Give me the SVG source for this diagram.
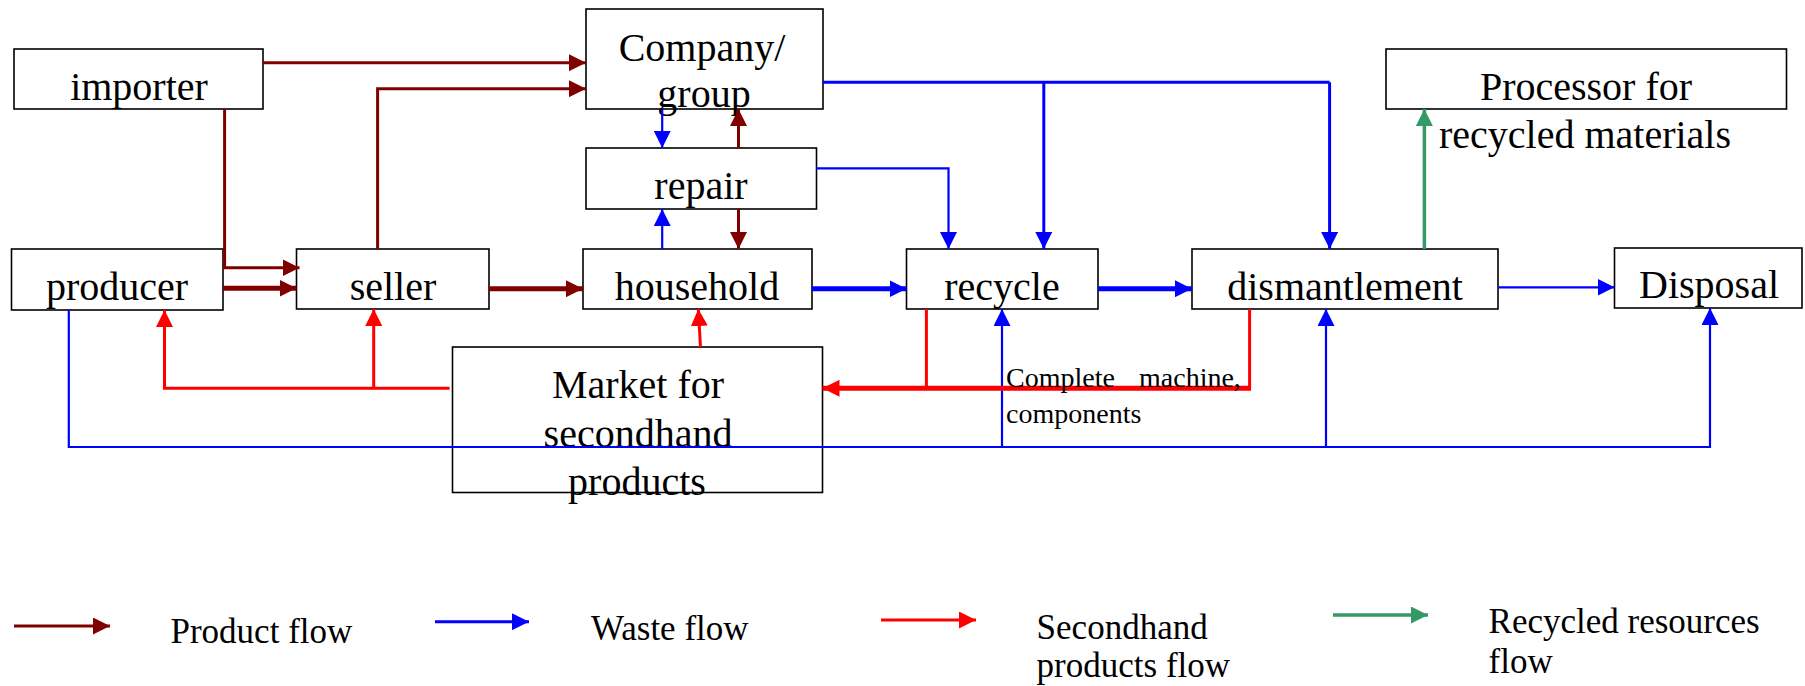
<svg xmlns="http://www.w3.org/2000/svg" width="1805" height="686" viewBox="0 0 1805 686">
<style>
.box{fill:#fff;stroke:#000;stroke-width:1.6}
.t{font-family:"Liberation Serif","Times New Roman",serif;font-size:40px;fill:#000;text-anchor:middle}
.lg{font-family:"Liberation Serif","Times New Roman",serif;font-size:35px;fill:#000}
.sm{font-family:"Liberation Serif","Times New Roman",serif;font-size:28px;fill:#000}
.c{fill:none}
.dr{stroke:#800000;stroke-width:3;marker-end:url(#mdr)}
.bl{stroke:#0000FF;stroke-width:3;marker-end:url(#mbl)}
.blt{stroke:#0000FF;stroke-width:2.2;marker-end:url(#mbl)}
.rd{stroke:#FF0000;stroke-width:3;marker-end:url(#mrd)}
.gr{stroke:#339966;stroke-width:3.5;marker-end:url(#mgr)}
.thick{stroke-width:5}
.nm{marker-end:none}
</style>
<defs>
<marker id="mdr" markerUnits="userSpaceOnUse" markerWidth="17" markerHeight="17" viewBox="0 0 17 17" refX="17" refY="8.5" orient="auto"><path d="M0,0 L17,8.5 L0,17 z" fill="#800000"/></marker>
<marker id="mbl" markerUnits="userSpaceOnUse" markerWidth="17" markerHeight="17" viewBox="0 0 17 17" refX="17" refY="8.5" orient="auto"><path d="M0,0 L17,8.5 L0,17 z" fill="#0000FF"/></marker>
<marker id="mrd" markerUnits="userSpaceOnUse" markerWidth="17" markerHeight="17" viewBox="0 0 17 17" refX="17" refY="8.5" orient="auto"><path d="M0,0 L17,8.5 L0,17 z" fill="#FF0000"/></marker>
<marker id="mgr" markerUnits="userSpaceOnUse" markerWidth="17" markerHeight="17" viewBox="0 0 17 17" refX="17" refY="8.5" orient="auto"><path d="M0,0 L17,8.5 L0,17 z" fill="#339966"/></marker>
</defs>
<rect width="1805" height="686" fill="#fff"/>
<g id="importer"><rect class="box" x="14" y="49" width="249" height="60"/><text class="t" x="139" y="100">importer</text></g>
<g id="producer"><rect class="box" x="11.5" y="249" width="211.5" height="61"/><text class="t" x="117" y="300">producer</text></g>
<g id="seller"><rect class="box" x="296.5" y="249" width="192.5" height="60"/><text class="t" x="393" y="300">seller</text></g>
<g id="company"><rect class="box" x="586" y="9" width="237" height="100"/><text class="t" x="702" y="61">Company/</text><text class="t" x="704" y="107">group</text></g>
<g id="repair"><rect class="box" x="586" y="148" width="230.5" height="61"/><text class="t" x="701" y="199">repair</text></g>
<g id="household"><rect class="box" x="583" y="249" width="229" height="60"/><text class="t" x="697" y="300">household</text></g>
<g id="recycle"><rect class="box" x="906.5" y="249" width="191.5" height="60"/><text class="t" x="1002" y="300">recycle</text></g>
<g id="dismantlement"><rect class="box" x="1192" y="249" width="306" height="60"/><text class="t" x="1345" y="300">dismantlement</text></g>
<g id="disposal"><rect class="box" x="1614.5" y="248" width="187.5" height="60"/><text class="t" x="1709" y="298">Disposal</text></g>
<g id="processor"><rect class="box" x="1386" y="49" width="400.5" height="60"/><text class="t" x="1586" y="100">Processor for</text><text class="t" x="1585" y="148">recycled materials</text></g>
<g id="market"><rect class="box" x="452.5" y="347" width="370" height="145.5"/><text class="t" x="638" y="398">Market for</text><text class="t" x="638" y="446.7">secondhand</text><text class="t" x="637" y="495">products</text></g>
<g id="connectors">
<path class="c dr" d="M263,62.7 H586"/>
<path class="c dr" d="M377.6,249 V88.7 H586"/>
<path class="c dr" d="M224.6,109 V267.7 H299.5"/>
<path class="c dr thick" d="M223,288.3 H296.5"/>
<path class="c dr thick" d="M489,288.7 H583"/>
<path class="c dr" d="M738.5,148 V109"/>
<path class="c dr" d="M738.5,209 V249"/>
<path class="c blt" d="M662.2,109 V148"/>
<path class="c blt" d="M662.2,249 V209"/>
<path class="c blt" d="M816.5,168.3 H948.5 V249"/>
<path class="c bl nm" d="M822.8,82.3 H1329.6"/>
<path class="c bl" d="M1329.6,82.3 V249"/>
<path class="c bl" d="M1043.8,82.3 V249"/>
<path class="c bl thick" d="M811.7,288.7 H906.5"/>
<path class="c bl thick" d="M1098,288.7 H1192"/>
<path class="c blt" d="M1498.5,287.3 H1614.5"/>
<path class="c gr" d="M1424.4,249 V109"/>
<path class="c blt" d="M68.8,310 V447 H1710 V308"/>
<path class="c blt" d="M1002,447 V309"/>
<path class="c blt" d="M1326,447 V309"/>
<path class="c rd" d="M449.6,388.3 H164.5 V310"/>
<path class="c rd" d="M373.7,388.3 V309"/>
<path class="c rd" d="M700.5,347 L698.3,309"/>
<path class="c rd nm" d="M926.4,309 V388.3"/>
<path class="c rd nm" d="M1249.6,309 V388.3"/>
<path class="c rd thick" d="M1251,388.3 H822.5"/>
</g>
<text class="sm" y="387"><tspan x="1006">Complete</tspan><tspan x="1139">machine,</tspan></text>
<text class="sm" x="1006" y="422.7">components</text>
<g id="legend">
<path class="c dr" d="M14,626 H110"/>
<text class="lg" x="170.5" y="643">Product flow</text>
<path class="c bl" d="M435,621.7 H529"/>
<text class="lg" x="591" y="640">Waste flow</text>
<path class="c rd" d="M881,620 H976"/>
<text class="lg" x="1036.6" y="639">Secondhand</text>
<text class="lg" x="1036.6" y="676.7">products flow</text>
<path class="c gr" d="M1333,615 H1428"/>
<text class="lg" x="1488.6" y="633">Recycled resources</text>
<text class="lg" x="1488.6" y="673">flow</text>
</g>
</svg>
